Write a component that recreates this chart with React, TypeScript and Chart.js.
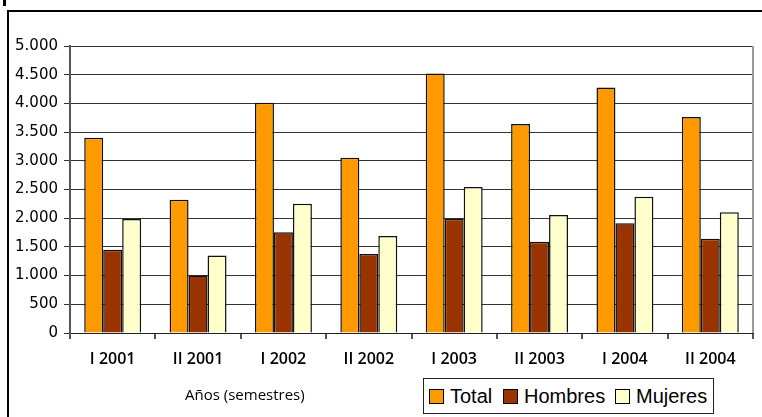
import React, { useEffect, useRef } from "react";
import { Chart, registerables } from "chart.js";

Chart.register(...registerables);

const categories = ["I 2001", "II 2001", "I 2002", "II 2002", "I 2003", "II 2003", "I 2004", "II 2004"];
const totalValues = [3400, 2320, 4010, 3055, 4520, 3640, 4275, 3765];
const hombresValues = [1450, 1000, 1755, 1375, 1990, 1590, 1910, 1640];
const mujeresValues = [1985, 1350, 2250, 1690, 2545, 2055, 2375, 2105];
const seriesNames = ["Total", "Hombres", "Mujeres"];
const seriesColors = ["#FF9900", "#993300", "#FFFFCC"];
const yTickMax = 5000;
const yTickStep = 500;
const xAxisTitle = "Años (semestres)";

const fmt = (v: number) => {
  const s = String(Math.round(v));
  return s.replace(/\B(?=(\d{3})+(?!\d))/g, ".");
};

const plotBorder = {
  id: "plotBorder",
  afterDraw(chart: any) {
    const { ctx, chartArea } = chart;
    ctx.save();
    ctx.strokeStyle = "#999999";
    ctx.lineWidth = 2;
    ctx.beginPath();
    ctx.moveTo(chartArea.right, chartArea.top);
    ctx.lineTo(chartArea.right, chartArea.bottom);
    ctx.stroke();
    ctx.restore();
  },
};

export default function App() {
  const ref = useRef<HTMLCanvasElement | null>(null);

  useEffect(() => {
    if (!ref.current) return;
    const data = [totalValues, hombresValues, mujeresValues];
    const chart = new Chart(ref.current, {
      type: "bar",
      data: {
        labels: categories,
        datasets: seriesNames.map((name, i) => ({
          label: name,
          data: data[i],
          backgroundColor: seriesColors[i],
          borderColor: "#111111",
          borderWidth: 1.5,
          categoryPercentage: 0.667,
          barPercentage: 1,
        })),
      },
      options: {
        responsive: false,
        animation: false,
        layout: { padding: { top: 46, right: 9, left: 0, bottom: 0 } },
        plugins: { legend: { display: false }, tooltip: { enabled: false } },
        scales: {
          x: {
            offset: true,
            grid: {
              offset: true,
              drawOnChartArea: false,
              drawTicks: true,
              tickLength: 6,
              color: "#555555",
              lineWidth: 2,
            },
            border: { display: true, color: "#222222", width: 1 },
            ticks: {
              color: "#000000",
              padding: 11,
              font: { family: "'Open Sans'", size: 16, weight: "600" },
              maxRotation: 0,
            },
            afterFit: (s: any) => {
              s.height = 84;
            },
          },
          y: {
            min: 0,
            max: yTickMax,
            ticks: {
              stepSize: yTickStep,
              color: "#000000",
              padding: 6,
              font: { family: "'DejaVu Sans'", size: 15 },
              callback: (v: any) => fmt(Number(v)),
            },
            grid: { color: "#333333", lineWidth: 1, tickLength: 6 },
            border: { display: true, color: "#555555", width: 2 },
            afterFit: (s: any) => {
              s.width = 70;
            },
          },
        },
      },
      plugins: [plotBorder],
    });
    return () => chart.destroy();
  }, []);

  const textStyle: React.CSSProperties = {
    position: "absolute",
    fontFamily: "'Liberation Sans', Arial, sans-serif",
    fontSize: 20,
    lineHeight: "20px",
    top: 386,
    color: "#000",
    whiteSpace: "nowrap",
  };
  const swatch = (left: number, color: string): React.CSSProperties => ({
    position: "absolute",
    left,
    top: 389,
    width: 13,
    height: 13,
    background: color,
    border: "1px solid #000",
  });

  return (
    <div style={{ position: "absolute", left: 0, top: 0, width: 762, height: 417, overflow: "hidden" }}>
      <div style={{ position: "absolute", left: 3, top: 0, width: 3, height: 6, background: "#000" }} />
      <div style={{ position: "absolute", left: 7, top: 10, width: 755, height: 2, background: "#000" }} />
      <div style={{ position: "absolute", left: 7, top: 10, width: 2, height: 407, background: "#000" }} />
      <canvas ref={ref} width={762} height={417} style={{ position: "absolute", left: 0, top: 0, width: 762, height: 417 }} />
      <div
        style={{
          position: "absolute",
          left: 185,
          top: 385,
          fontFamily: "'Open Sans'",
          fontSize: 15,
          lineHeight: "18px",
          color: "#000",
          whiteSpace: "nowrap",
        }}
      >
        {xAxisTitle}
      </div>
      <div
        style={{
          position: "absolute",
          left: 423,
          top: 378,
          width: 289,
          height: 34,
          border: "1px solid #222",
          background: "#fff",
        }}
      />
      <div style={swatch(429, seriesColors[0])} />
      <div style={{ ...textStyle, left: 450 }}>{seriesNames[0]}</div>
      <div style={swatch(503, seriesColors[1])} />
      <div style={{ ...textStyle, left: 524 }}>{seriesNames[1]}</div>
      <div style={swatch(615, seriesColors[2])} />
      <div style={{ ...textStyle, left: 636 }}>{seriesNames[2]}</div>
    </div>
  );
}
